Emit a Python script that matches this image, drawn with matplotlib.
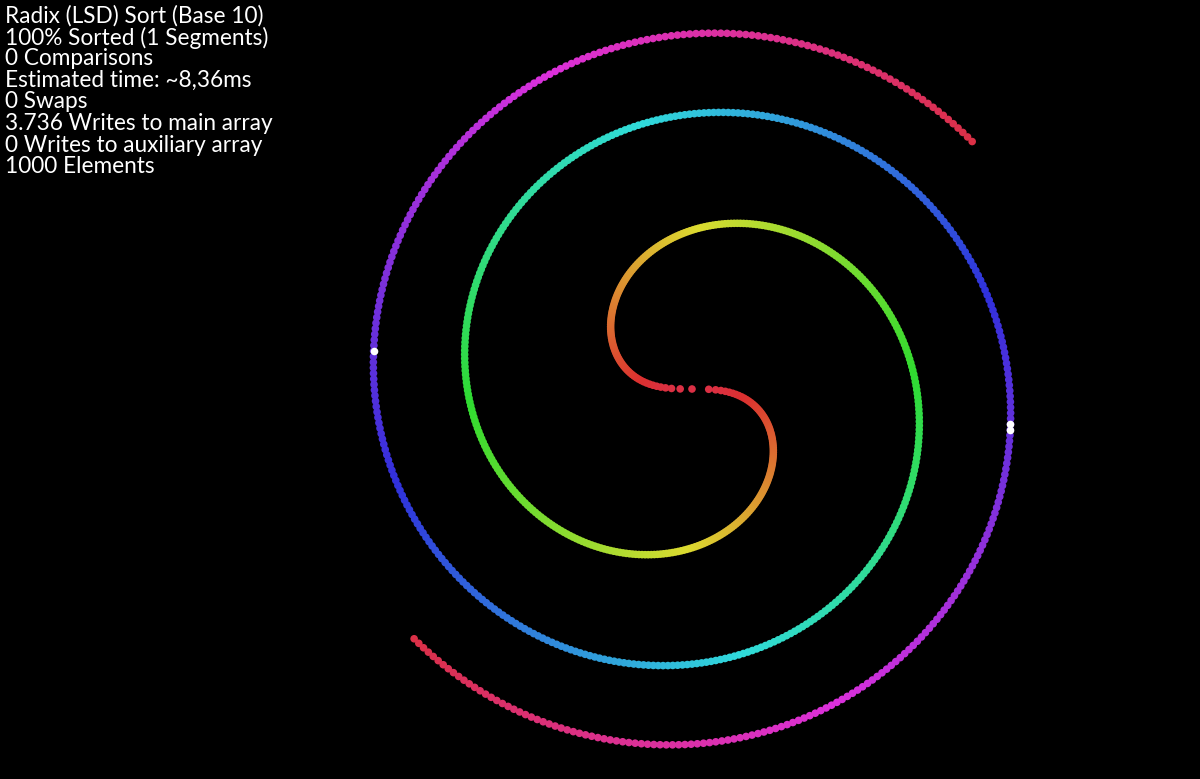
import numpy as np
import matplotlib
matplotlib.use("Agg")
import matplotlib.pyplot as plt
from matplotlib.colors import hsv_to_rgb

# array state (sorted), highlighted elements and the stats text
n_elements = 1000
values = np.arange(n_elements)
highlights = [734, 735, 736]
info_lines = [
    "Radix (LSD) Sort (Base 10)",
    "100% Sorted (1 Segments)",
    "0 Comparisons",
    "Estimated time: ~8,36ms",
    "0 Swaps",
    "3.736 Writes to main array",
    "0 Writes to auxiliary array",
    "1000 Elements",
]

# fermat spiral layout (pixel space)
cx, cy = 692, 389
turn = 8.71          # total rotation per arm (rad)
rmax = 374

phi = values / n_elements * turn
r = rmax * np.sqrt(phi / turn)
ang = -phi + np.pi * (values % 2)
x = cx + r * np.cos(ang)
y = cy - r * np.sin(ang)

hue = (values / n_elements - 0.02) % 1.0
hsv = np.stack([hue, np.full(n_elements, 0.78), np.full(n_elements, 0.86)], axis=1)
cols = hsv_to_rgb(hsv)

fig = plt.figure(figsize=(12, 7.79), dpi=100, facecolor="black")
ax = fig.add_axes([0, 0, 1, 1])
ax.set_facecolor("black")
ax.scatter(x, y, s=30, c=cols, linewidths=0)
hl = np.array(highlights)
ax.scatter(x[hl], y[hl], s=30, c="white", linewidths=0, zorder=3)
ax.set_xlim(0, 1200)
ax.set_ylim(779, 0)
ax.axis("off")

for i, line in enumerate(info_lines):
    fig.text(5 / 1200, 1 - (5 + i * 21.6) / 779, line, color="white", family="Lato",
             fontsize=16.3, va="top", ha="left")

fig.savefig("out.png", dpi=100, facecolor="black")
